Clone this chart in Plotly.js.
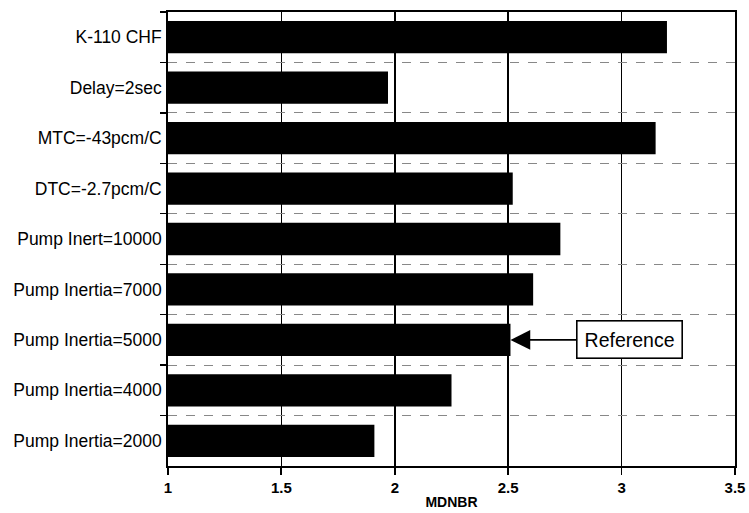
<!DOCTYPE html>
<html>
<head>
<meta charset="utf-8">
<script src="https://cdn.plot.ly/plotly-3.0.1.min.js"></script>
<style>html,body{margin:0;padding:0;background:#fff;}#chart{width:749px;height:513px;}</style>
</head>
<body>
<div id="chart"></div>
<script>
var categories = ["K-110 CHF","Delay=2sec","MTC=-43pcm/C","DTC=-2.7pcm/C","Pump Inert=10000","Pump Inertia=7000","Pump Inertia=5000","Pump Inertia=4000","Pump Inertia=2000"];
var mdnbr = [3.20, 1.97, 3.15, 2.52, 2.73, 2.61, 2.51, 2.25, 1.91];
var xTicks = [1, 1.5, 2, 2.5, 3, 3.5];
var xTickLabels = ["1", "1.5", "2", "2.5", "3", "3.5"];
var refLabel = "Reference";
var refCategory = "Pump Inertia=5000";
var refValue = 2.51;

var trace = {
  type: "bar",
  orientation: "h",
  y: categories,
  x: mdnbr,
  marker: {color: "#000", line: {width: 0}},
  hoverinfo: "x+y"
};

var layout = {
  width: 749, height: 513,
  margin: {l: 168, r: 14, t: 12, b: 47},
  paper_bgcolor: "#fff", plot_bgcolor: "#fff",
  font: {family: "Liberation Sans, Arial, sans-serif", color: "#000", size: 13},
  showlegend: false,
  bargap: 0.36,
  xaxis: {
    range: [1, 3.5],
    tickvals: xTicks, ticktext: xTickLabels,
    ticks: "outside", ticklen: 7, tickwidth: 1.8, tickcolor: "#000",
    showgrid: true, gridcolor: "#000", gridwidth: 1.6,
    showline: true, linecolor: "#000", linewidth: 1.8, mirror: true,
    zeroline: false,
    tickfont: {size: 15, family: "Liberation Sans, Arial, sans-serif", weight: "bold"},
    title: {text: "<b>MDNBR</b>", font: {size: 14}, standoff: 2}
  },
  yaxis: {
    type: "category",
    categoryorder: "array", categoryarray: categories,
    range: [8.5, -0.5],
    tickson: "boundaries",
    ticks: "outside", ticklen: 6, tickwidth: 1.4, tickcolor: "#000",
    showgrid: true, gridcolor: "#888", gridwidth: 1, griddash: "dash",
    showline: true, linecolor: "#000", linewidth: 1.8, mirror: true,
    tickfont: {size: 17.5},
    ticklabelstandoff: 1
  },
  annotations: [{
    x: refValue, y: refCategory, xref: "x", yref: "y",
    ax: 3.036, ay: refCategory, axref: "x", ayref: "y",
    text: refLabel,
    showarrow: true, arrowhead: 2, arrowsize: 2.2, arrowwidth: 1.8, arrowcolor: "#000",
    standoff: 0,
    font: {size: 19.5, color: "#000"},
    bordercolor: "#000", borderwidth: 1.6, borderpad: 7, bgcolor: "#fff"
  }]
};

Plotly.newPlot("chart", [trace], layout, {displayModeBar: false, staticPlot: true});
</script>
</body>
</html>
